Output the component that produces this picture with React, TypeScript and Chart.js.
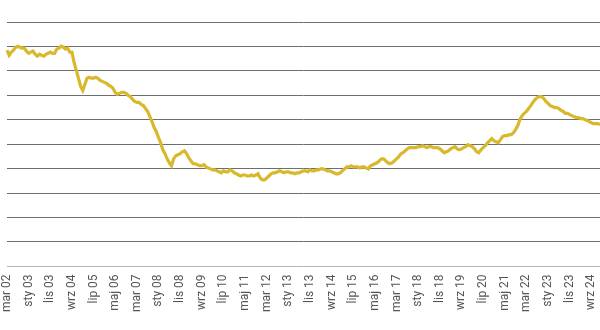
import React, { useEffect, useRef } from "react";
import { Chart, registerables } from "chart.js";

Chart.register(...registerables);

const MONTHS = ["sty", "lut", "mar", "kwi", "maj", "cze", "lip", "sie", "wrz", "paź", "lis", "gru"];
const START_YEAR = 2002;
const START_MONTH = 2; // mar
const LABEL_EVERY = 10;

const VALUES: number[] = [
  88.5, 86.4, 87.7, 88.5, 89.7, 90.1, 89.7, 89.3, 89.3, 88.1,
  87.2, 87.7, 88.1, 86.8, 86.0, 86.8, 86.4, 86.0, 86.8, 87.2,
  87.7, 87.2, 87.2, 88.9, 89.3, 90.1, 89.7, 88.9, 89.3, 87.7,
  87.7, 83.5, 80.2, 77.0, 73.7, 72.0, 74.5, 77.0, 77.4, 77.0,
  77.0, 77.4, 77.0, 76.1, 75.7, 75.3, 74.9, 74.1, 73.7, 72.8,
  71.2, 70.4, 70.8, 71.2, 71.2, 70.8, 70.0, 69.5, 68.3, 67.5,
  67.1, 67.1, 66.3, 65.8, 64.6, 63.4, 61.3, 59.3, 56.8, 55.1,
  52.7, 50.6, 47.7, 46.1, 44.0, 42.4, 41.2, 44.0, 45.3, 45.7,
  46.1, 46.9, 47.3, 46.1, 44.4, 43.2, 42.0, 42.0, 41.6, 41.2,
  41.2, 41.6, 40.7, 40.3, 39.9, 39.5, 39.5, 39.1, 38.7, 38.3,
  39.1, 38.7, 38.7, 39.5, 39.1, 38.3, 37.9, 37.4, 37.0, 37.4,
  37.4, 37.0, 37.0, 37.4, 37.0, 37.4, 37.9, 36.2, 35.4, 35.4,
  36.2, 37.0, 37.9, 38.3, 38.3, 38.7, 39.1, 38.7, 38.3, 38.7,
  38.7, 38.3, 38.3, 37.9, 38.3, 38.3, 38.7, 39.1, 39.1, 38.7,
  39.5, 39.1, 39.1, 39.5, 39.5, 39.9, 39.9, 39.5, 39.1, 39.1,
  38.7, 38.3, 37.9, 37.9, 38.3, 39.1, 39.9, 40.7, 40.7, 41.2,
  40.7, 40.7, 40.7, 40.3, 40.7, 40.7, 40.3, 39.9, 41.2, 41.6,
  42.0, 42.4, 43.2, 44.0, 44.0, 43.2, 42.4, 42.0, 42.4, 43.2,
  44.0, 44.9, 46.1, 46.5, 47.3, 48.1, 48.6, 48.6, 48.6, 48.6,
  49.0, 49.0, 49.4, 49.0, 48.6, 49.0, 49.0, 48.6, 48.6, 48.6,
  48.1, 47.3, 46.5, 46.9, 47.3, 48.1, 48.6, 49.0, 48.1, 47.7,
  48.1, 48.6, 49.0, 49.8, 49.4, 49.0, 48.1, 46.9, 46.5, 47.7,
  48.6, 49.4, 50.6, 51.4, 52.3, 51.4, 51.0, 50.6, 51.9, 53.1,
  53.5, 53.5, 53.9, 53.9, 54.7, 56.0, 57.6, 60.1, 61.7, 62.6,
  63.4, 64.6, 65.8, 67.1, 68.3, 69.1, 69.5, 69.5, 68.7, 67.5,
  66.7, 65.8, 65.4, 65.0, 65.0, 64.6, 63.8, 63.4, 62.6, 62.6,
  62.1, 61.7, 61.3, 60.9, 60.9, 60.5, 60.5, 60.1, 59.7, 59.3,
  58.8, 58.4, 58.4, 58.4, 58.0,
];

const LABELS: string[] = VALUES.map((_, i) => {
  const m = START_MONTH + i;
  const year = START_YEAR + Math.floor(m / 12);
  return `${MONTHS[m % 12]} ${String(year % 100).padStart(2, "0")}`;
});

const Y_MIN = 0;
const Y_MAX = 100;
const Y_STEP = 10;

export default function App() {
  const ref = useRef<HTMLCanvasElement | null>(null);

  useEffect(() => {
    if (!ref.current) return;
    const chart = new Chart(ref.current, {
      type: "line",
      data: {
        labels: LABELS,
        datasets: [
          {
            data: VALUES,
            borderColor: "#d8b92c",
            borderWidth: 3.2,
            pointRadius: 0,
            tension: 0,
            fill: false,
          },
        ],
      },
      options: {
        responsive: false,
        animation: false,
        layout: { padding: { top: 22, left: 7, right: 0, bottom: 10 } },
        plugins: { legend: { display: false }, tooltip: { enabled: false } },
        scales: {
          x: {
            grid: { display: false, drawTicks: false },
            border: { display: false },
            afterFit: (scale: any) => {
              scale.paddingLeft = 0;
              scale.paddingRight = 0;
            },
            ticks: {
              autoSkip: false,
              maxRotation: 90,
              minRotation: 90,
              padding: 8,
              color: "#555",
              font: { family: "Roboto, 'Liberation Sans', sans-serif", size: 12 },
              callback: (_v: any, idx: number) => (idx % LABEL_EVERY === 0 ? LABELS[idx] : null),
            },
          },
          y: {
            min: Y_MIN,
            max: Y_MAX,
            ticks: { display: false, stepSize: Y_STEP },
            border: { display: false },
            grid: {
              drawTicks: false,
              color: (ctx: any) => (ctx.index === 0 ? "#b5b5b5" : "#6e6e6e"),
              lineWidth: 1,
            },
          },
        },
      },
    });
    return () => chart.destroy();
  }, []);

  return (
    <div style={{ position: "absolute", left: 0, top: 0, width: 600, height: 330, background: "#fff" }}>
      <canvas ref={ref} width={600} height={330} />
    </div>
  );
}
